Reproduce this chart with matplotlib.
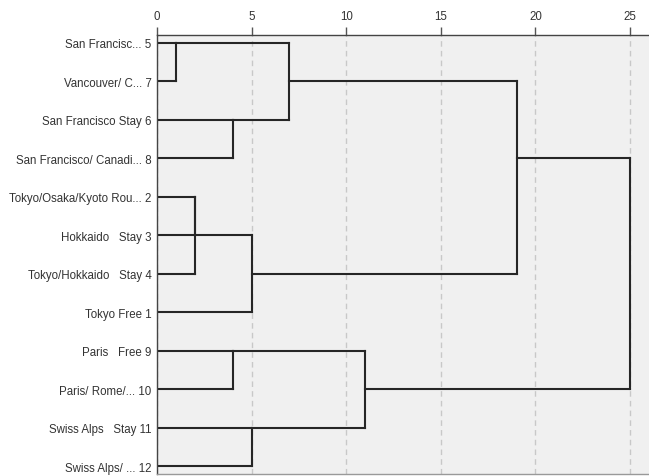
import matplotlib
matplotlib.use("Agg")
import matplotlib.pyplot as plt

# Leaf labels in display order (top to bottom)
labels = [
    "San Francisc... 5",
    "Vancouver/ C... 7",
    "San Francisco Stay 6",
    "San Francisco/ Canadi... 8",
    "Tokyo/Osaka/Kyoto Rou... 2",
    "Hokkaido   Stay 3",
    "Tokyo/Hokkaido   Stay 4",
    "Tokyo Free 1",
    "Paris   Free 9",
    "Paris/ Rome/... 10",
    "Swiss Alps   Stay 11",
    "Swiss Alps/ ... 12",
]

# Merges: (node a, node b, rescaled distance); leaves are 0..11, new nodes 12..
merge_a = [0, 2, 12, 4, 15, 16, 8, 10, 18, 14, 21]
merge_b = [1, 3, 13, 5, 6, 7, 9, 11, 19, 17, 20]
merge_d = [1, 4, 7, 2, 2, 5, 4, 5, 11, 19, 25]

xticks = [0, 5, 10, 15, 20, 25]

fig = plt.figure(figsize=(6.49, 4.77), dpi=100)
ax = fig.add_axes([157 / 649, 1 - 475 / 477, 1 - 157 / 649, (475 - 36) / 477])
ax.set_facecolor("#f0f0f0")

line_kw = dict(color="#262626", lw=1.5, solid_capstyle="projecting")

row = {i: i for i in range(len(labels))}
xpos = {i: 0.0 for i in range(len(labels))}

node = len(labels)
for a, b, d in zip(merge_a, merge_b, merge_d):
    for n in (a, b):
        ax.plot([xpos[n], d], [row[n], row[n]], **line_kw)
    ax.plot([d, d], [row[a], row[b]], **line_kw)
    row[node] = (row[a] + row[b]) // 2
    xpos[node] = d
    node += 1

ax.set_xlim(0, 26)
ax.set_ylim(len(labels) - 1 + 0.208, -0.208)
ax.set_yticks(range(len(labels)))
ax.set_yticklabels(labels, fontfamily="Liberation Sans", fontsize=8.3, color="#333333")
ax.set_xticks(xticks)
ax.set_xticklabels([str(t) for t in xticks], fontfamily="Liberation Sans", fontsize=8.3, color="#333333")
ax.xaxis.tick_top()
ax.tick_params(axis="x", length=6, width=1, color="#555555", pad=3)
ax.tick_params(axis="y", length=0, pad=4)
ax.grid(axis="x", color="#c8c8c8", linestyle=(0, (4, 3)), lw=1)
ax.set_axisbelow(True)
for s in ["left", "top", "bottom"]:
    ax.spines[s].set_color("#444444")
    ax.spines[s].set_linewidth(1)
ax.spines["bottom"].set_color("#999999")
ax.spines["right"].set_visible(False)

fig.savefig("out.png", dpi=100)
